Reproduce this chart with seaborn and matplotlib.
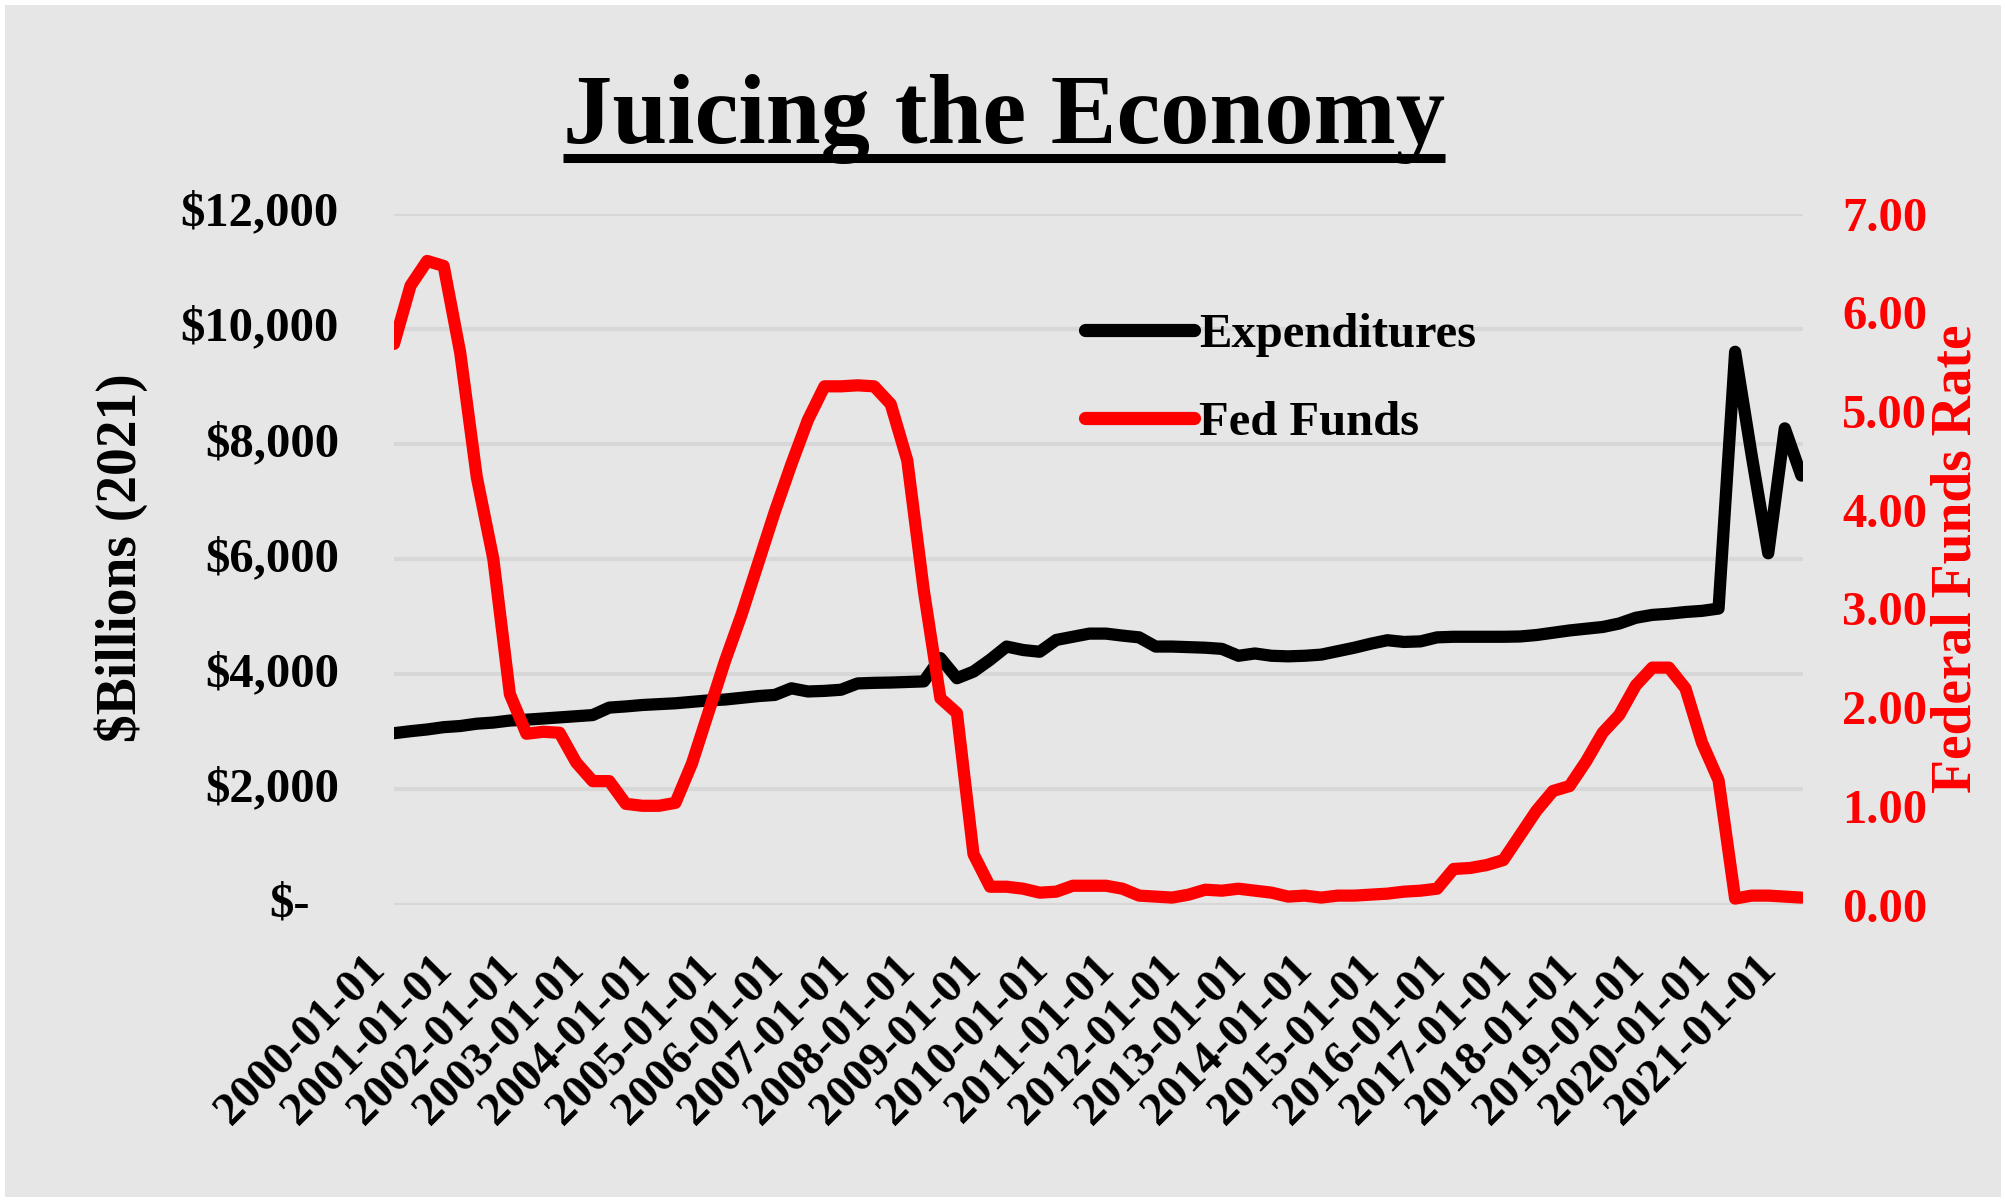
import numpy as np
import pandas as pd
import matplotlib
matplotlib.use("Agg")
import matplotlib.pyplot as plt
import matplotlib.transforms as mtransforms
from matplotlib.lines import Line2D
from matplotlib.patches import Rectangle
import seaborn as sns

# ---------------- data ----------------
quarters = pd.date_range("2000-01-01", periods=86, freq="QS").strftime("%Y-%m-%d").tolist()

expenditures = [
    2975, 3010, 3040, 3080, 3100, 3140, 3160, 3195, 3210, 3230, 3250, 3270,
    3290, 3420, 3440, 3465, 3480, 3495, 3520, 3545, 3560, 3590, 3620, 3640,
    3755, 3700, 3710, 3730, 3840, 3850, 3855, 3865, 3875, 4280, 3930, 4045,
    4250, 4480, 4420, 4390, 4595, 4650, 4705, 4705, 4670, 4640, 4480, 4480,
    4470, 4460, 4440, 4320, 4360, 4320, 4310, 4320, 4340, 4400, 4460, 4530,
    4590, 4560, 4570, 4640, 4650, 4650, 4650, 4650, 4655, 4680, 4720, 4760,
    4790, 4820, 4880, 4980, 5030, 5050, 5080, 5100, 5140, 9600, 7800, 6100,
    8270, 7450,
]

fed_funds = [
    5.68, 6.27, 6.52, 6.47, 5.59, 4.33, 3.50, 2.13, 1.73, 1.75, 1.74, 1.44,
    1.25, 1.25, 1.02, 1.00, 1.00, 1.03, 1.43, 1.95, 2.47, 2.94, 3.46, 3.98,
    4.46, 4.91, 5.25, 5.25, 5.26, 5.25, 5.07, 4.50, 3.18, 2.09, 1.94, 0.51,
    0.18, 0.18, 0.16, 0.12, 0.13, 0.19, 0.19, 0.19, 0.16, 0.09, 0.08, 0.07,
    0.10, 0.15, 0.14, 0.16, 0.14, 0.12, 0.08, 0.09, 0.07, 0.09, 0.09, 0.10,
    0.11, 0.13, 0.14, 0.16, 0.36, 0.37, 0.40, 0.45, 0.70, 0.95, 1.15, 1.20,
    1.45, 1.74, 1.92, 2.22, 2.40, 2.40, 2.19, 1.64, 1.26, 0.06, 0.09, 0.09,
    0.08, 0.07,
]

x_tick_labels = [
    "2000-01-01", "2001-01-01", "2002-01-01", "2003-01-01", "2004-01-01",
    "2005-01-01", "2006-01-01", "2007-01-01", "2008-01-01", "2009-01-01",
    "2010-01-01", "2011-01-01", "2012-01-01", "2013-01-01", "2014-01-01",
    "2015-01-01", "2016-01-01", "2017-01-01", "2018-01-01", "2019-01-01",
    "2020-01-01", "2021-01-01",
]

left_ticks = [0, 2000, 4000, 6000, 8000, 10000, 12000]
left_labels = ["$-", "$2,000", "$4,000", "$6,000", "$8,000", "$10,000", "$12,000"]
right_ticks = [0, 1, 2, 3, 4, 5, 6, 7]
right_labels = ["0.00", "1.00", "2.00", "3.00", "4.00", "5.00", "6.00", "7.00"]

df = pd.DataFrame({
    "quarter": quarters,
    "pos": np.arange(len(quarters)),
    "Expenditures": expenditures,
    "Fed Funds": fed_funds,
})

# ---------------- style ----------------
sns.set_theme(style="white")
plt.rcParams["font.family"] = ["Liberation Serif", "DejaVu Serif"]
plt.rcParams["font.weight"] = "bold"
plt.rcParams["text.color"] = "black"
plt.rcParams["xtick.color"] = "black"
plt.rcParams["ytick.color"] = "black"
plt.rcParams["axes.labelcolor"] = "black"

W, H = 2006, 1201
BG = "#E6E6E6"
fig = plt.figure(figsize=(W / 100, H / 100), dpi=100, facecolor="white")
fig.patches.append(Rectangle((5 / W, 4 / H), (W - 10) / W, (H - 9) / H,
                             transform=fig.transFigure, facecolor=BG,
                             edgecolor="none", zorder=-10))

ax_left, ax_right, ax_top, ax_bot = 394, 1803, 213.6, 904.5
ax = fig.add_axes([ax_left / W, 1 - ax_bot / H, (ax_right - ax_left) / W,
                   (ax_bot - ax_top) / H])
ax.set_facecolor("none")
ax2 = ax.twinx()

LW = 8.8
sns.lineplot(data=df, x="pos", y="Expenditures", ax=ax, color="black",
             linewidth=LW, legend=False, solid_joinstyle="round")
sns.lineplot(data=df, x="pos", y="Fed Funds", ax=ax2, color="#FF0000",
             linewidth=LW, legend=False, solid_joinstyle="round")

ax.set_xlim(0, 85.1)
ax.set_ylim(0, 12000)
ax2.set_ylim(0, 7)

for a in (ax, ax2):
    for s in a.spines.values():
        s.set_visible(False)
    a.set_xlabel("")
    a.set_ylabel("")

ax.yaxis.grid(True, color="#D7D7D7", linewidth=3.0)
ax.xaxis.grid(False)
ax.set_axisbelow(True)

FS = 35
ax.set_xticks(df["pos"][::4].tolist())
ax.set_xticklabels(x_tick_labels, rotation=45, ha="right", fontsize=34,
                   fontweight="bold", color="black")
ax.tick_params(axis="x", length=0, pad=31)

ax.set_yticks(left_ticks)
ax.set_yticklabels([])
ax.tick_params(axis="y", length=0)
blend = mtransforms.blended_transform_factory(ax.transAxes, ax.transData)
for v, lab in zip(left_ticks, left_labels):
    off = 84 if v == 0 else 55
    tr = blend + mtransforms.ScaledTranslation(-off / 100, 0, fig.dpi_scale_trans)
    ax.text(0, v, lab, transform=tr, ha="right", va="center", fontsize=FS,
            fontweight="bold", color="black")

ax2.set_yticks(right_ticks)
ax2.set_yticklabels(right_labels, fontsize=FS, fontweight="bold", color="#FF0000")
ax2.tick_params(axis="y", length=0, pad=28)
ax2.grid(False)

fig.text(121 / W, 1 - 558 / H, "$Billions (2021)", rotation=90, ha="center",
         va="center", fontsize=40, fontweight="bold", color="black")
fig.text(1957 / W, 1 - 559 / H, "Federal Funds Rate", rotation=90, ha="center",
         va="center", fontsize=40, fontweight="bold", color="#FF0000")

handles = [Line2D([], [], color="black", lw=9.5, solid_capstyle="round"),
           Line2D([], [], color="#FF0000", lw=9.5, solid_capstyle="round")]
leg = ax2.legend(handles=handles, labels=["Expenditures", "Fed Funds"],
                 loc="upper left", bbox_to_anchor=(1085 / W, 1 - 313 / H),
                 bbox_transform=fig.transFigure, frameon=False,
                 handlelength=2.25, handletextpad=0.1, labelspacing=0.9,
                 borderaxespad=0, borderpad=0, labelcolor="black",
                 prop={"size": FS, "weight": "bold"})

title = fig.text(1004 / W, 1 - 143 / H, "Juicing the Economy", ha="center",
                 va="baseline", fontsize=71, fontweight="bold", color="black")

fig.canvas.draw()
bb = title.get_window_extent(renderer=fig.canvas.get_renderer())
uy = (H - 158) / H
fig.add_artist(Line2D([bb.x0 / W, bb.x1 / W], [uy, uy], transform=fig.transFigure,
                      color="black", linewidth=6.5, solid_capstyle="butt"))

fig.savefig("out.png", dpi=100, facecolor="white")
